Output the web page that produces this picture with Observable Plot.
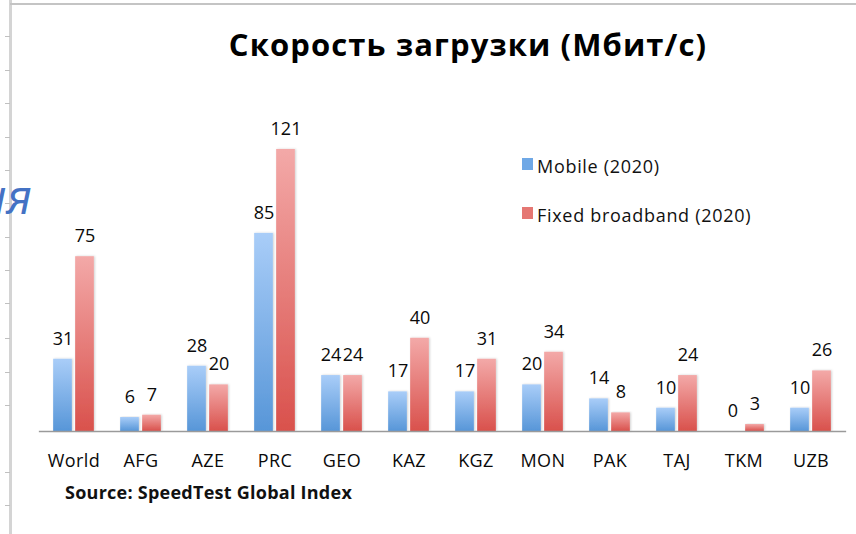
<!DOCTYPE html>
<html>
<head>
<meta charset="utf-8">
<script src="https://cdn.jsdelivr.net/npm/d3@7"></script>
<script src="https://cdn.jsdelivr.net/npm/@observablehq/plot@0.6"></script>
<style>
  html, body { margin: 0; padding: 0; background: #fff; }
  #wrap { position: relative; width: 856px; height: 534px; overflow: hidden; font-family: "Open Sans", sans-serif; color: #111; }
  #wrap svg { position: absolute; left: 0; top: 0; }
  .abs { position: absolute; white-space: nowrap; line-height: 1; }
  #title { left: 468px; top: 29px; transform: translateX(-50%); font-size: 31px; font-weight: 700; letter-spacing: 1.1px; color: #000; }
  #source { left: 65px; top: 483px; font-size: 18px; font-weight: 700; letter-spacing: 0.25px; color: #111; }
  #frag { left: 32px; top: 172px; transform: translateX(-100%); font-size: 48px; font-style: italic; color: #4472c4; }
  .sw { position: absolute; width: 11px; height: 12px; }
  .lg { font-size: 18px; letter-spacing: 0.7px; color: #111; }
  #vline { position: absolute; left: 9px; top: 0; width: 3px; height: 534px; background: #d4d4d4; }
  #hline { position: absolute; left: 10px; top: 3px; width: 846px; height: 2px; background: #c4c4c4; }
  .tick { position: absolute; left: 5px; width: 5px; height: 1px; background: #c0c0c0; }
</style>
</head>
<body>
<div id="wrap"></div>
<script>
const countries = ["World", "AFG", "AZE", "PRC", "GEO", "KAZ", "KGZ", "MON", "PAK", "TAJ", "TKM", "UZB"];
const mobile = [31, 6, 28, 85, 24, 17, 17, 20, 14, 10, 0, 10];
const fixed = [75, 7, 20, 121, 24, 40, 31, 34, 8, 24, 3, 26];
const seriesNames = ["Mobile (2020)", "Fixed broadband (2020)"];
const titleText = "Скорость загрузки (Мбит/с)";
const sourceText = "Source: SpeedTest Global Index";
const fragmentText = "ия";
const frameTicks = [36, 70, 103, 137, 170, 203, 237, 270, 303, 338, 372, 405, 472, 505];

const mobileData = countries.map((c, i) => ({country: c, value: mobile[i]}));
const fixedData = countries.map((c, i) => ({country: c, value: fixed[i]}));

function gradientDefs() {
  const ns = "http://www.w3.org/2000/svg";
  const g = document.createElementNS(ns, "g");
  const defs = document.createElementNS(ns, "defs");
  const mk = (id, top, bottom) => {
    const lg = document.createElementNS(ns, "linearGradient");
    lg.setAttribute("id", id);
    lg.setAttribute("x1", "0"); lg.setAttribute("y1", "0");
    lg.setAttribute("x2", "0"); lg.setAttribute("y2", "1");
    const s1 = document.createElementNS(ns, "stop");
    s1.setAttribute("offset", "0"); s1.setAttribute("stop-color", top);
    const s2 = document.createElementNS(ns, "stop");
    s2.setAttribute("offset", "1"); s2.setAttribute("stop-color", bottom);
    lg.appendChild(s1); lg.appendChild(s2);
    defs.appendChild(lg);
  };
  mk("gBlue", "#a9cdf8", "#5796d8");
  mk("gRed", "#f3a9a8", "#d9514c");
  const f = document.createElementNS(ns, "filter");
  f.setAttribute("id", "shadow");
  f.setAttribute("x", "-20%"); f.setAttribute("y", "-5%");
  f.setAttribute("width", "150%"); f.setAttribute("height", "115%");
  const ds = document.createElementNS(ns, "feDropShadow");
  ds.setAttribute("dx", "1"); ds.setAttribute("dy", "0");
  ds.setAttribute("stdDeviation", "0.8");
  ds.setAttribute("flood-color", "#000"); ds.setAttribute("flood-opacity", "0.18");
  f.appendChild(ds);
  defs.appendChild(f);
  g.appendChild(defs);
  return g;
}

const plot = Plot.plot({
  width: 856,
  height: 534,
  marginLeft: 38.85,
  marginRight: 9.85,
  marginTop: 128,
  marginBottom: 103,
  style: {fontFamily: "'Open Sans', sans-serif", background: "transparent", overflow: "visible"},
  x: {type: "band", domain: countries, padding: 0},
  y: {domain: [0, 130], axis: null},
  marks: [
    gradientDefs,
    Plot.barY(mobileData, {x: "country", y: "value", fill: "url(#gBlue)", insetLeft: 13.15, insetRight: 35.15}),
    Plot.barY(fixedData, {x: "country", y: "value", fill: "url(#gRed)", insetLeft: 35.15, insetRight: 13.15}),
    Plot.ruleY([0], {stroke: "#9a9a9a", strokeWidth: 1.5}),
    Plot.text(mobileData, {x: "country", y: "value", text: d => String(d.value), dx: -11, dy: -14.5, lineAnchor: "bottom", fontSize: 18, fill: "#0a0a0a"}),
    Plot.text(fixedData, {x: "country", y: "value", text: d => String(d.value), dx: 11, dy: -14.5, lineAnchor: "bottom", fontSize: 18, fill: "#0a0a0a"}),
    Plot.axisX({tickSize: 0, tickPadding: 23, fontSize: 18, fill: "#0a0a0a", label: null})
  ]
});

plot.querySelectorAll("g[aria-label='bar'] rect").forEach(r => r.setAttribute("filter", "url(#shadow)"));
plot.querySelectorAll("g[aria-label='x-axis tick label'] text").forEach(t => t.setAttribute("letter-spacing", "0.4"));

const wrap = document.getElementById("wrap");
wrap.appendChild(plot);

const add = (cls, id, text) => {
  const d = document.createElement("div");
  d.className = cls;
  if (id) d.id = id;
  if (text != null) d.textContent = text;
  wrap.appendChild(d);
  return d;
};
add("", "vline");
add("", "hline");
frameTicks.forEach(t => { const d = add("tick"); d.style.top = t + "px"; });
add("abs", "title", titleText);
add("abs", "source", sourceText);
add("abs", "frag", fragmentText);

const legendColors = ["#6fa8e6", "#e57773"];
const legendY = [158, 207];
seriesNames.forEach((name, i) => {
  const sw = add("sw");
  sw.style.left = "522px";
  sw.style.top = legendY[i] + "px";
  sw.style.background = legendColors[i];
  const t = add("abs lg", null, name);
  t.style.left = "537px";
  t.style.top = (legendY[i] - 1) + "px";
});
</script>
</body>
</html>
